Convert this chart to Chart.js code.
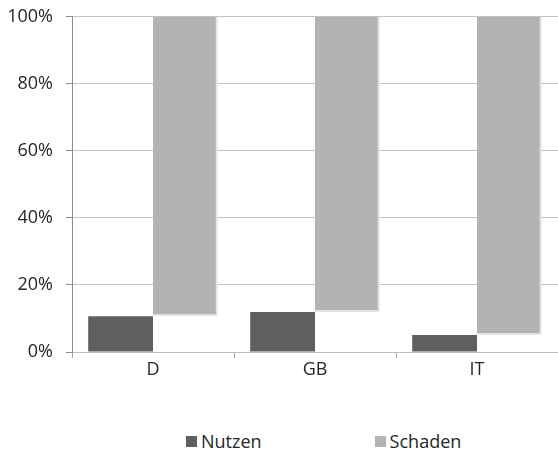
<!DOCTYPE html>
<html>
<head>
<meta charset="utf-8">
<script src="https://cdn.jsdelivr.net/npm/chart.js@4"></script>
<style>
  html, body { margin: 0; padding: 0; background: #fff; }
  #wrap { position: relative; width: 558px; height: 453px; overflow: hidden; }
  #chartBox { position: absolute; left: 0; top: -7px; width: 558px; height: 407px; }
  #legend { position: absolute; top: 429px; left: 186px; display: flex; font-family: "Open Sans", sans-serif; font-size: 18px; color: #262626; }
  .item { display: flex; align-items: center; margin-right: 113px; }
  .swatch { width: 11px; height: 11px; margin-right: 4px; }
</style>
</head>
<body>
<div id="wrap">
  <div id="chartBox"><canvas id="chart"></canvas></div>
  <div id="legend"></div>
</div>
<script>
// --- Data ---
const countries = ['D', 'GB', 'IT'];
const nutzen = [10.7, 11.9, 5.1];      // % share
const schaden = [89.3, 88.1, 94.9];    // % share, sits on top of Nutzen
const yTicks = [0, 20, 40, 60, 80, 100];

const colNutzen = '#5f5f5f';
const colSchaden = '#b3b3b3';
const font = { family: 'Open Sans', size: 18 };

// Schaden bars float from the Nutzen value up to the total
const schadenRange = schaden.map((v, i) => [nutzen[i], nutzen[i] + v]);

const ctx = document.getElementById('chart').getContext('2d');
const chart = new Chart(ctx, {
    type: 'bar',
    data: {
        labels: countries,
        datasets: [
            {
                label: 'Nutzen',
                data: nutzen,
                backgroundColor: colNutzen,
                borderWidth: 0
            },
            {
                label: 'Schaden',
                data: schadenRange,
                backgroundColor: colSchaden,
                borderColor: '#e4e4e4',
                borderSkipped: false,
                borderWidth: { top: 0, left: 0, right: 2, bottom: 2 }
            }
        ]
    },
    options: {
        responsive: true,
        maintainAspectRatio: false,
        animation: false,
        layout: { padding: { top: 0, right: 0, bottom: 0, left: 0 } },
        datasets: { bar: { categoryPercentage: 0.8, barPercentage: 1 } },
        scales: {
            x: {
                grid: { display: true, drawOnChartArea: false, offset: true, tickLength: 6, color: '#a6a6a6' },
                border: { color: '#bfbfbf' },
                ticks: { font: font, color: '#262626', padding: 1 },
                afterFit: s => { s.height = 48; }
            },
            y: {
                min: 0,
                max: 100,
                afterBuildTicks: s => { s.ticks = yTicks.map(v => ({ value: v })); },
                grid: { color: '#c4c4c4', tickLength: 6, tickColor: '#8c8c8c' },
                border: { color: '#8c8c8c' },
                ticks: { font: font, color: '#262626', padding: 13, callback: v => v + '%' },
                afterFit: s => { s.width = 72; }
            }
        },
        plugins: {
            legend: { display: false },
            tooltip: { enabled: false }
        }
    }
});

// --- Legend ---
const legend = document.getElementById('legend');
chart.data.datasets.forEach(ds => {
    const item = document.createElement('div');
    item.className = 'item';
    const sw = document.createElement('span');
    sw.className = 'swatch';
    sw.style.background = ds.backgroundColor;
    item.appendChild(sw);
    item.appendChild(document.createTextNode(ds.label));
    legend.appendChild(item);
});
</script>
</body>
</html>
